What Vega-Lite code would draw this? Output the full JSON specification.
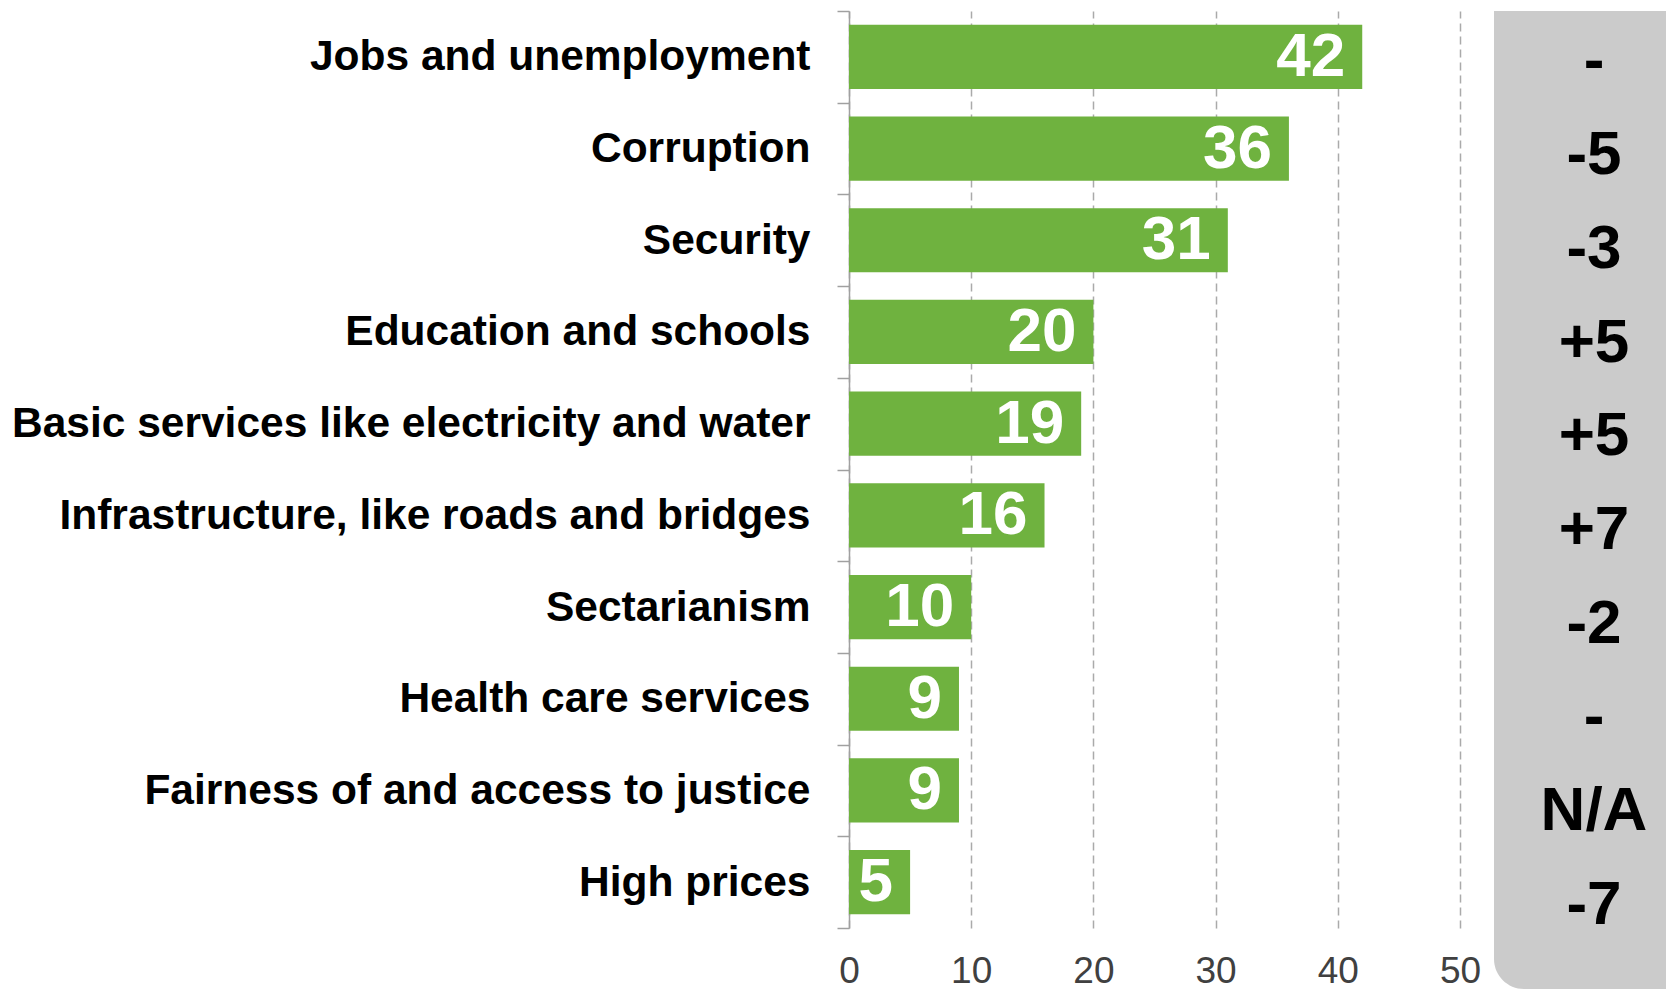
{
  "$schema": "https://vega.github.io/schema/vega-lite/v6.json",
  "padding": {"left": 11, "top": -10, "right": 0, "bottom": 0},
  "background": "white",
  "bounds": "full",
  "spacing": 13,
  "config": {"view": {"stroke": null}, "font": "Liberation Sans"},
  "data": {"values": [
    {"issue": "Jobs and unemployment", "pct": 42, "change": "-"},
    {"issue": "Corruption", "pct": 36, "change": "-5"},
    {"issue": "Security", "pct": 31, "change": "-3"},
    {"issue": "Education and schools", "pct": 20, "change": "+5"},
    {"issue": "Basic services like electricity and water", "pct": 19, "change": "+5"},
    {"issue": "Infrastructure, like roads and bridges", "pct": 16, "change": "+7"},
    {"issue": "Sectarianism\u00a0", "pct": 10, "change": "-2"},
    {"issue": "Health care services", "pct": 9, "change": "-"},
    {"issue": "Fairness of and access to justice", "pct": 9, "change": "N/A"},
    {"issue": "High prices", "pct": 5, "change": "-7"}
  ]},
  "hconcat": [
    {
      "width": 611,
      "height": 917,
      "encoding": {
        "y": {"field": "issue", "type": "nominal", "sort": null,
          "scale": {"paddingInner": 0, "paddingOuter": 0},
          "axis": {"title": null, "labelFontSize": 42.5, "labelFontWeight": "bold", "labelColor": "#000000",
            "labelPadding": 27, "tickSize": 12, "tickColor": "#a0a0a0", "domainColor": "#a0a0a0",
            "tickWidth": 1.5, "domainWidth": 1.5, "tickBand": "extent", "labelLimit": 1000}},
        "x": {"field": "pct", "type": "quantitative", "scale": {"domain": [0, 50]},
          "axis": {"title": null, "values": [0, 10, 20, 30, 40, 50], "grid": true, "gridDash": [8, 5],
            "gridColor": "#aaaaaa", "gridWidth": 1.5, "domain": false, "ticks": false, "labelFlush": false,
            "labelFontSize": 37, "labelColor": "#404040", "labelPadding": 25}}
      },
      "layer": [
        {"mark": {"type": "bar", "color": "#6fb23f", "height": {"band": 0.7}}},
        {"mark": {"type": "text", "align": "right", "baseline": "middle", "dx": -17, "color": "white",
          "fontSize": 62, "fontWeight": "bold"},
          "encoding": {"text": {"field": "pct", "type": "quantitative"}}}
      ]
    },
    {
      "width": 172,
      "height": 978,
      "layer": [
        {"data": {"values": [{"panel": "changes"}]},
          "mark": {"type": "rect", "color": "#cbcbcb", "cornerRadiusBottomLeft": 30},
          "encoding": {}},
        {"mark": {"type": "text", "baseline": "middle", "dx": 14, "fontSize": 62, "fontWeight": "bold", "color": "#000000"},
          "encoding": {
            "y": {"field": "issue", "type": "nominal", "sort": null,
              "scale": {"type": "band", "paddingInner": 0, "paddingOuter": 0.219, "align": 0.087}, "axis": null},
            "text": {"field": "change", "type": "nominal"}
          }}
      ]
    }
  ]
}
